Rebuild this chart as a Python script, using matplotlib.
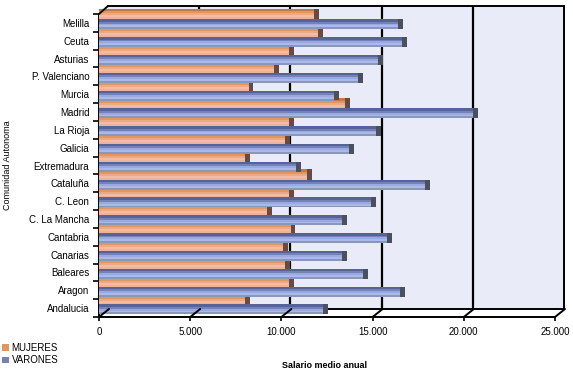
import matplotlib
matplotlib.use("Agg")
from matplotlib import pyplot as plt
from matplotlib.ticker import FuncFormatter

plt.rcParams['font.family'] = ['Liberation Sans', 'DejaVu Sans']

comunidades = ["Andalucia", "Aragon", "Baleares", "Canarias", "Cantabria",
               "C. La Mancha", "C. Leon", "Cataluña", "Extremadura", "Galicia",
               "La Rioja", "Madrid", "Murcia", "P. Valenciano", "Asturias",
               "Ceuta", "Melilla"]
mujeres = [8000, 10400, 10200, 10100, 10500, 9200, 10400, 11400, 8000, 10200,
           10400, 13500, 8200, 9600, 10400, 12000, 11800]
varones = [12300, 16500, 14500, 13300, 15800, 13300, 14900, 17900, 10800, 13700,
           15200, 20500, 12900, 14200, 15300, 16600, 16400]
x_ticks = [0, 5000, 10000, 15000, 20000, 25000]

W, H = 573, 373


def fig_rect(left, top, right, bottom):
    return [left / W, (H - bottom) / H, (right - left) / W, (bottom - top) / H]


def draw_bar(ax, pos, values, colors, cap_color, face_h, top_h):
    # front face as stacked strips (fake gradient), then top face and end cap
    n = len(colors)
    strip = face_h / n
    bars = None
    for k, c in enumerate(colors):
        yk = [p + face_h / 2 - strip * (k + 0.5) for p in pos]
        b = ax.barh(yk, values, height=strip * 1.02, color=c, linewidth=0,
                    zorder=3, clip_on=False)
        if bars is None:
            bars = b
    ax.barh([p + face_h / 2 + top_h / 2 for p in pos], values, height=top_h,
            color=cap_color[0], linewidth=0, zorder=3, clip_on=False)
    ax.barh([p + top_h / 2 for p in pos], [270] * len(values), left=values,
            height=face_h + top_h, color=cap_color[1], linewidth=0, zorder=3,
            clip_on=False)
    return bars


fig = plt.figure(figsize=(W / 100, H / 100), dpi=100)

# back wall
back = fig.add_axes(fig_rect(108, 6, 564, 309))
back.set_facecolor("#e9ebf8")
back.set_xlim(0, 25000)
back.set_ylim(0, 1)
for v in x_ticks[1:-1]:
    back.axvline(v, color="black", lw=1.6)
back.set_xticks([])
back.set_yticks([])
back.spines["left"].set_visible(False)
for s in ["top", "right", "bottom"]:
    back.spines[s].set_linewidth(1.4)

# front axes with the bars
ax = fig.add_axes(fig_rect(99, 14, 555, 317))
ax.patch.set_visible(False)
ax.set_xlim(0, 25000)
ax.set_ylim(-0.5, len(comunidades) - 0.5)
pos = list(range(len(comunidades)))

m_bars = draw_bar(ax, [p + 0.42 for p in pos], mujeres,
                  ["#e19660", "#ecaa84", "#f2bca6", "#eab49c"],
                  ["#c47a48", "#6a4a40"], face_h=0.45, top_h=0.16)
v_bars = draw_bar(ax, [p - 0.143 for p in pos], varones,
                  ["#7482b8", "#9aaae0", "#aab8ea", "#8a98b8"],
                  ["#55639a", "#4a5060"], face_h=0.42, top_h=0.14)

ax.spines["top"].set_visible(False)
ax.spines["right"].set_visible(False)
ax.spines["left"].set_linewidth(1.4)
ax.spines["bottom"].set_linewidth(1.4)

ax.set_xticks(x_ticks)
ax.xaxis.set_major_formatter(FuncFormatter(lambda v, p: f"{int(v):,}".replace(",", ".")))
ax.tick_params(axis="x", length=3, width=1.2, labelsize=7, pad=4)

ax.set_yticks(pos)
ax.set_yticklabels(comunidades)
ax.set_yticks([p - 0.5 for p in pos] + [len(pos) - 0.5], minor=True)
ax.tick_params(axis="y", which="major", length=0, labelsize=7, pad=7)
ax.tick_params(axis="y", which="minor", length=4, width=1.2)

# depth lines joining front and back
for v in x_ticks:
    ax.annotate("", xy=(v, -0.5), xytext=(10, 8), textcoords="offset pixels",
                arrowprops=dict(arrowstyle="-", lw=1.4, shrinkA=0, shrinkB=0),
                annotation_clip=False)
ax.annotate("", xy=(0, len(pos) - 0.5), xytext=(9, 8), textcoords="offset pixels",
            arrowprops=dict(arrowstyle="-", lw=1.4, shrinkA=0, shrinkB=0),
            annotation_clip=False)

fig.text(325 / W, 1 - 366 / H, "Salario medio anual", fontsize=6.5,
         fontweight="bold", ha="center", va="center")
fig.text(8 / W, 1 - 165 / H, "Comunidad Autonoma", fontsize=6.5,
         rotation=90, ha="center", va="center")

fig.legend([m_bars, v_bars], ["MUJERES", "VARONES"], loc="upper left",
           bbox_to_anchor=(0.0, 1 - 341 / H), frameon=False, fontsize=7,
           handlelength=0.7, handleheight=0.7, handletextpad=0.3,
           labelspacing=0.25, borderaxespad=0, borderpad=0.2)

plt.savefig("out.png")
